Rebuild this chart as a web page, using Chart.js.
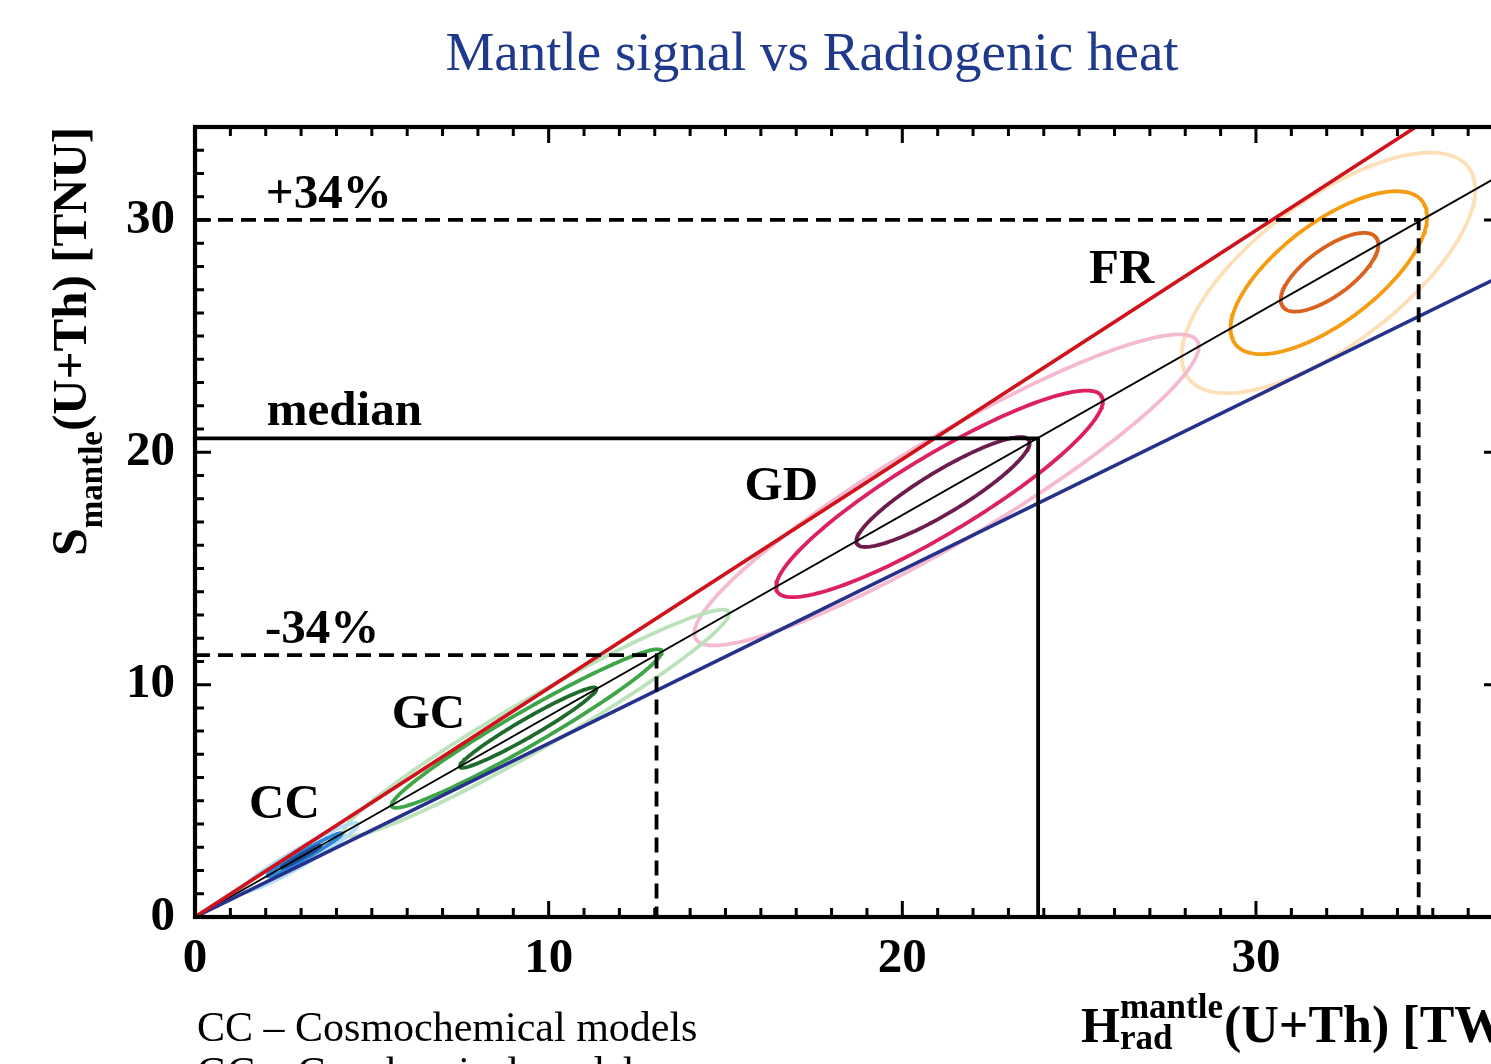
<!DOCTYPE html>
<html>
<head>
<meta charset="utf-8">
<title>Mantle signal vs Radiogenic heat</title>
<script src="https://cdn.jsdelivr.net/npm/chart.js@4.4.0/dist/chart.umd.min.js"></script>
<style>
  html, body { margin: 0; padding: 0; background: #ffffff; overflow: hidden; width: 1491px; height: 1064px; }
  #wrap { position: absolute; left: 0; top: 0; width: 1520px; height: 1064px; }
</style>
</head>
<body>
<div id="wrap"><canvas id="chart" width="1520" height="1064"></canvas></div>
<script>
// ---- axis ranges and labelled ticks ----
const heatRange = [0, 36.9];          // H_rad^mantle (U+Th) [TW]
const signalRange = [0, 34];          // S_mantle (U+Th) [TNU]
const heatTicks = [0, 10, 20, 30];
const signalTicks = [0, 10, 20, 30];

// ---- S = k·H relations: upper bound, central relation, lower bound ----
const slopeUpper = 0.985;
const slopeCentral = 0.865;
const slopeLower = 0.747;

// ---- model contours (three confidence levels per model family) ----
const contourGroup   = ['CC', 'CC', 'CC', 'GC', 'GC', 'GC', 'GD', 'GD', 'GD', 'FR', 'FR', 'FR'];
const contourLevel   = ['outer', 'mid', 'inner', 'outer', 'mid', 'inner', 'outer', 'mid', 'inner', 'outer', 'mid', 'inner'];
const contourCentreH = [2.95, 3.10, 3.00, 9.65, 9.38, 9.42, 21.25, 21.05, 21.15, 32.05, 32.06, 32.08];
const contourCentreS = [2.55, 2.68, 2.60, 8.35, 8.11, 8.15, 18.38, 18.21, 18.29, 27.72, 27.73, 27.75];
const contourHalfH   = [1.65, 1.05, 0.55, 5.45, 3.82, 1.93, 7.13, 4.62, 2.45, 4.15, 2.78, 1.38];
const contourHalfS   = [0.42, 0.20, 0.08, 1.25, 0.85, 0.45, 2.60, 1.95, 1.05, 3.73, 2.55, 1.20];

// ---- -34% / median / +34% reference levels ----
const levelNames  = ['-34%', 'median', '+34%'];
const levelHeat   = [13.05, 23.84, 34.60];
const levelSignal = [11.27, 20.60, 30.00];

// ---- model family names ----
const modelNames = ['CC', 'GC', 'GD', 'FR'];
const footnotes = ['CC \u2013 Cosmochemical models', 'GC \u2013 Geochemical models'];

// ---- styling ----
const contourColors = {
  CC: { outer: '#b3dcf5', mid: '#2b86d6', inner: '#1c4f9a' },
  GC: { outer: '#bce2bc', mid: '#3fa648', inner: '#1f6b2e' },
  GD: { outer: '#f5bad0', mid: '#dc2063', inner: '#6e1b4e' },
  FR: { outer: '#fde0b8', mid: '#f59c12', inner: '#d9621f' }
};
const SERIF = '"Liberation Serif", "Times New Roman", serif';

// anchors (data units) for the text placed inside the plot
const modelLabelAt = { CC: [1.53, 4.26], GC: [5.56, 8.13], GD: [15.54, 17.94], FR: [25.28, 27.27] };
const levelLabelAt = { '-34%': [1.98, 11.8], 'median': [2.03, 21.16], '+34%': [2.0, 30.5] };

// outline of one contour: an ellipse whose long axis follows the central relation
function contourOutline(i) {
  const pts = [];
  const n = 180;
  for (let j = 0; j < n; j++) {
    const t = (j / n) * 2 * Math.PI;
    const dh = contourHalfH[i] * Math.cos(t);
    pts.push({
      x: contourCentreH[i] + dh,
      y: contourCentreS[i] + slopeCentral * dh + contourHalfS[i] * Math.sin(t)
    });
  }
  pts.push(pts[0]);
  return pts;
}

const datasets = [];

// contours, light outer rings first so darker rings sit on top
const levelOrder = { outer: 40, mid: 39, inner: 38 };
contourGroup.forEach((g, i) => {
  datasets.push({
    label: g + ' ' + contourLevel[i],
    data: contourOutline(i),
    borderColor: contourColors[g][contourLevel[i]],
    borderWidth: 3.8,
    borderJoinStyle: 'round',
    borderCapStyle: 'round',
    pointRadius: 0,
    tension: 0,
    fill: false,
    order: levelOrder[contourLevel[i]]
  });
});

// straight relations through the origin
[[slopeUpper, '#d0121c', 3.6], [slopeLower, '#25318c', 3.6], [slopeCentral, '#000000', 1.8]].forEach(([k, col, w], j) => {
  datasets.push({
    label: 'relation ' + j,
    data: [{ x: 0, y: 0 }, { x: heatRange[1], y: k * heatRange[1] }],
    borderColor: col,
    borderWidth: w,
    pointRadius: 0,
    fill: false,
    order: 20 + j
  });
});

// reference level guides: horizontal to the central relation, then down to the H axis
levelNames.forEach((name, i) => {
  datasets.push({
    label: name,
    data: [
      { x: heatRange[0], y: levelSignal[i] },
      { x: levelHeat[i], y: levelSignal[i] },
      { x: levelHeat[i], y: signalRange[0] }
    ],
    borderColor: '#000000',
    borderWidth: 3.8,
    borderDash: name === 'median' ? [] : [15, 8],
    pointRadius: 0,
    fill: false,
    order: 5
  });
});

// frame with inward minor / major ticks on all four sides
const framePlugin = {
  id: 'frame',
  afterDatasetsDraw(chart) {
    const { ctx, chartArea: a, scales: { x, y } } = chart;
    ctx.save();
    ctx.strokeStyle = '#000';
    ctx.lineWidth = 3;
    ctx.beginPath();
    for (let v = Math.ceil(heatRange[0]); v <= heatRange[1]; v++) {
      const px = x.getPixelForValue(v);
      const len = v % 10 === 0 ? 16 : 9;
      ctx.moveTo(px, a.bottom); ctx.lineTo(px, a.bottom - len);
      ctx.moveTo(px, a.top); ctx.lineTo(px, a.top + len);
    }
    for (let v = Math.ceil(signalRange[0]); v <= signalRange[1]; v++) {
      const py = y.getPixelForValue(v);
      const len = v % 10 === 0 ? 16 : 9;
      ctx.moveTo(a.left, py); ctx.lineTo(a.left + len, py);
      ctx.moveTo(a.right, py); ctx.lineTo(a.right - len, py);
    }
    ctx.stroke();
    ctx.lineWidth = 4.2;
    ctx.strokeRect(a.left, a.top, a.right - a.left, a.bottom - a.top);
    ctx.restore();
  }
};

// titles, axis titles, in-plot labels and the model key
const textPlugin = {
  id: 'texts',
  afterDraw(chart) {
    const { ctx, scales: { x, y } } = chart;
    ctx.save();
    ctx.textBaseline = 'alphabetic';

    // chart title
    ctx.fillStyle = '#1f3a8c';
    ctx.font = '55px ' + SERIF;
    ctx.textAlign = 'center';
    ctx.fillText('Mantle signal vs Radiogenic heat', 812, 70);

    // in-plot labels
    ctx.fillStyle = '#000';
    ctx.textAlign = 'left';
    ctx.font = 'bold 49px ' + SERIF;
    modelNames.forEach(n => {
      const [h, s] = modelLabelAt[n];
      ctx.fillText(n, x.getPixelForValue(h), y.getPixelForValue(s));
    });
    levelNames.forEach(n => {
      const [h, s] = levelLabelAt[n];
      ctx.fillText(n, x.getPixelForValue(h), y.getPixelForValue(s));
    });

    // vertical axis title: S_mantle(U+Th) [TNU]
    ctx.save();
    ctx.translate(86, 556);
    ctx.rotate(-Math.PI / 2);
    ctx.font = 'bold 50px ' + SERIF;
    ctx.fillText('S', 0, 0);
    let off = ctx.measureText('S').width;
    ctx.font = 'bold 33px ' + SERIF;
    ctx.fillText('mantle', off, 16);
    off += ctx.measureText('mantle').width;
    ctx.font = 'bold 49px ' + SERIF;
    ctx.fillText('(U+Th) [TNU]', off, 0);
    ctx.restore();

    // horizontal axis title: H_rad^mantle(U+Th) [TW]
    ctx.font = 'bold 50px ' + SERIF;
    const hx = 1081;
    ctx.fillText('H', hx, 1042);
    const sx = hx + ctx.measureText('H').width;
    ctx.font = 'bold 35px ' + SERIF;
    ctx.fillText('mantle', sx, 1018);
    const supW = ctx.measureText('mantle').width;
    ctx.fillText('rad', sx, 1049);
    const subW = ctx.measureText('rad').width;
    ctx.font = 'bold 52px ' + SERIF;
    ctx.fillText('(U+Th) [TW]', sx + Math.max(supW, subW) + 1, 1042);

    // model key
    ctx.font = '42px ' + SERIF;
    footnotes.forEach((t, i) => ctx.fillText(t, 197, 1041 + i * 45));
    ctx.restore();
  }
};

const tickFont = { family: SERIF, size: 49, weight: 'bold' };

new Chart(document.getElementById('chart'), {
  type: 'line',
  data: { datasets },
  options: {
    responsive: false,
    animation: false,
    events: [],
    layout: { padding: { top: 127, right: 20, left: 0, bottom: 0 } },
    plugins: { legend: { display: false }, tooltip: { enabled: false }, title: { display: false } },
    scales: {
      x: {
        type: 'linear',
        min: heatRange[0],
        max: heatRange[1],
        grid: { display: false },
        border: { display: false },
        afterBuildTicks: s => { s.ticks = heatTicks.map(v => ({ value: v })); },
        afterFit: s => { s.height = 1064 - 917; },
        ticks: { font: tickFont, color: '#000', padding: 5, maxRotation: 0, autoSkip: false }
      },
      y: {
        type: 'linear',
        min: signalRange[0],
        max: signalRange[1],
        grid: { display: false },
        border: { display: false },
        afterBuildTicks: s => { s.ticks = signalTicks.map(v => ({ value: v })); },
        afterFit: s => { s.width = 195; },
        ticks: { font: tickFont, color: '#000', padding: 12, autoSkip: false }
      }
    }
  },
  plugins: [framePlugin, textPlugin]
});
</script>
</body>
</html>
